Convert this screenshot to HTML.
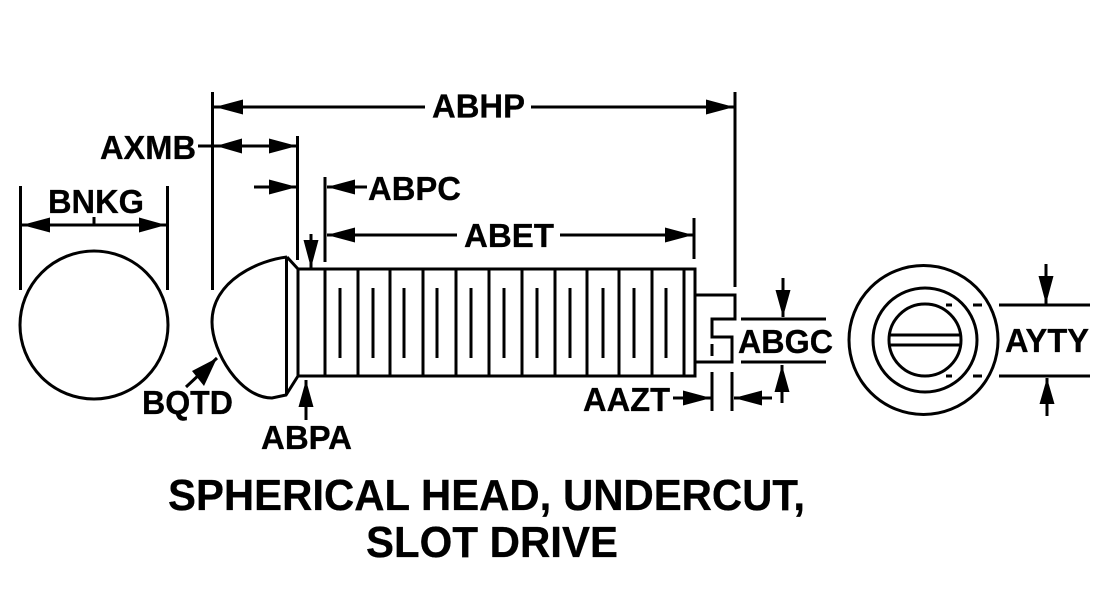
<!DOCTYPE html>
<html><head><meta charset="utf-8"><style>
html,body{margin:0;padding:0;background:#fff;width:1098px;height:612px;overflow:hidden}
svg{display:block}
text{font-family:"Liberation Sans",Arial,sans-serif;font-weight:700;fill:#000;stroke:#000;stroke-width:.3}
</style></head><body>
<svg width="1098" height="612" viewBox="0 0 1098 612" xmlns="http://www.w3.org/2000/svg">
<g fill="none" stroke="#000" stroke-width="3">
<!-- left circle -->
<circle cx="94" cy="325" r="74"/>
<path d="M20.5 186V290M167.5 186V290M22 225H166M94 217V225"/>
<!-- head -->
<path d="M287 257C260 260 212 280 212 322C212 352 240 398 272 398L286 395L298 376M287 257L298 269M286.500 257V395"/>
<!-- body -->
<path d="M298 269H695V376H298ZM325 269V376M358 269V376M390 269V376M423 269V376M456 269V376M489 269V376M522 269V376M555 269V376M587 269V376M619 269V376M652 269V376M684 269V376"/>
<path d="M340 288V358M373 288V358M404 288V358M437 288V358M471 288V358M504 288V358M537 288V358M570 288V358M603 288V358M634 288V358M666 288V358"/>
<!-- tip -->
<path d="M695 295H735V319H712V337H732V362H695M712 344V356"/>
<!-- dimension lines -->
<path d="M212.500 92V290M735 92V287M297.500 136V260M325 177V262M694 218V259"/>
<path d="M214 107H425M531 107H734M198 146H297M254 187H297M327 187H367M327 235H457M560 235H693"/>
<path d="M741 319H826M741 362H826M783 278V317M782 365V403M712 372V411M732 372V411M673 398H711M734 398H772"/>
<path d="M311 234V268M306 380V420M217 358L186 387"/>
<!-- right view -->
<circle cx="923.500" cy="340" r="74.500"/>
<circle cx="925" cy="340" r="52"/>
<circle cx="925" cy="340" r="36"/>
<path d="M890 335H960M890 345H960M946 305H952M973 305H982M946 376H952M973 376H982M999 305H1090M999 376H1090M1046 264V304M1047 378V416"/>
</g>
<g fill="#000" stroke="none">
<path d="M22 225L50 217.500V232.500ZM166 225L139 217.500V232.500Z"/>
<path d="M215 107L243 99.500V114.500ZM734 107L706 99.500V114.500Z"/>
<path d="M216 146L242 138.500V153.500ZM297 146L269 138.500V153.500ZM297 187L269 179.500V194.500ZM327 187L355 179.500V194.500Z"/>
<path d="M327 235L355 227.500V242.500ZM693 235L665 227.500V242.500Z"/>
<path d="M311 268L303.500 240H318.500ZM306 380L298.500 407H313.500Z"/>
<path d="M217 358L192 371L204 386Z"/>
<path d="M783 317L775.500 290H790.500ZM782 365L774.500 392H789.500Z"/>
<path d="M711 398L683 390.500V405.500ZM734 398L762 390.500V405.500Z"/>
<path d="M1046 304L1038.500 276H1053.500ZM1047 378L1039.500 404H1054.500Z"/>
</g>
<text x="48" y="213" font-size="33.500" textLength="96" lengthAdjust="spacingAndGlyphs">BNKG</text>
<text x="432" y="117.500" font-size="33.500" textLength="93" lengthAdjust="spacingAndGlyphs">ABHP</text>
<text x="100" y="159" font-size="33.500" textLength="96" lengthAdjust="spacingAndGlyphs">AXMB</text>
<text x="368" y="200" font-size="33.500" textLength="93" lengthAdjust="spacingAndGlyphs">ABPC</text>
<text x="464" y="247" font-size="33.500" textLength="90" lengthAdjust="spacingAndGlyphs">ABET</text>
<text x="738" y="353" font-size="33.500" textLength="95" lengthAdjust="spacingAndGlyphs">ABGC</text>
<text x="1005" y="352" font-size="33.500" textLength="84" lengthAdjust="spacingAndGlyphs">AYTY</text>
<text x="142" y="414" font-size="33.500" textLength="91" lengthAdjust="spacingAndGlyphs">BQTD</text>
<text x="261" y="449" font-size="33.500" textLength="91" lengthAdjust="spacingAndGlyphs">ABPA</text>
<text x="583" y="411" font-size="33.500" textLength="87" lengthAdjust="spacingAndGlyphs">AAZT</text>
<text x="168" y="510" font-size="43.500" textLength="637" lengthAdjust="spacingAndGlyphs">SPHERICAL HEAD, UNDERCUT,</text>
<text x="366" y="557" font-size="43.500" textLength="252" lengthAdjust="spacingAndGlyphs">SLOT DRIVE</text>
</svg>
</body></html>
